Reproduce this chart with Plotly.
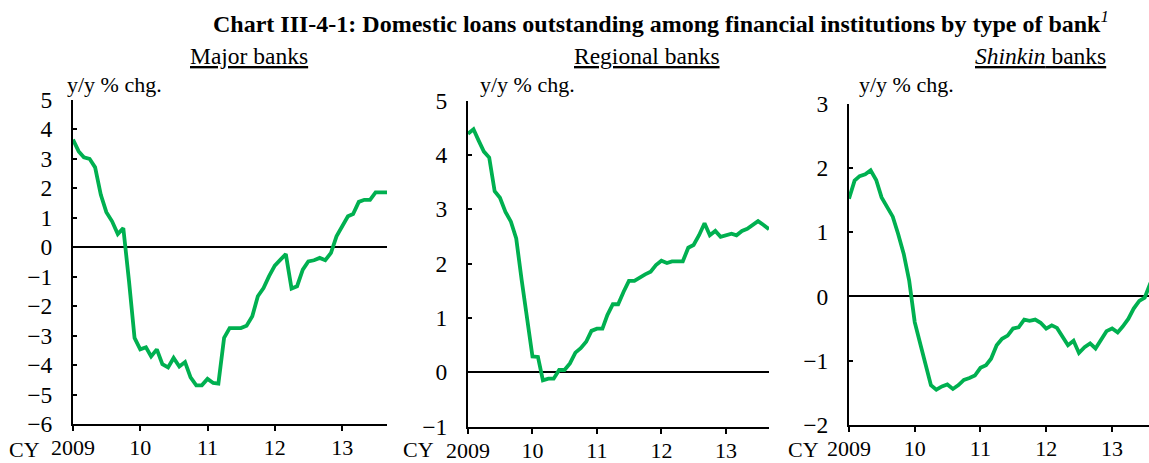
import pandas as pd
import plotly.graph_objects as go

# Monthly observations, Jan 2009 onward (y/y % change)
months = pd.date_range("2009-01-01", periods=57, freq="MS")

major_banks = [
    3.64, 3.24, 3.04, 2.99, 2.70, 1.77, 1.18, 0.87, 0.44, 0.64, -1.16, -3.08,
    -3.47, -3.40, -3.71, -3.47, -3.97, -4.08, -3.76, -4.05, -3.90, -4.42, -4.69, -4.69,
    -4.47, -4.61, -4.63, -3.08, -2.75, -2.75, -2.75, -2.67, -2.35, -1.67, -1.39, -0.99,
    -0.63, -0.43, -0.24, -1.41, -1.33, -0.77, -0.49, -0.45, -0.37, -0.45, -0.20, 0.36,
    0.70, 1.04, 1.12, 1.53, 1.60, 1.60, 1.85, 1.85, 1.85,
]
regional_banks = [
    4.39, 4.47, 4.27, 4.06, 3.95, 3.33, 3.21, 2.95, 2.77, 2.46, 1.69, 0.96,
    0.29, 0.28, -0.15, -0.12, -0.12, 0.04, 0.04, 0.16, 0.36, 0.44, 0.56, 0.76,
    0.80, 0.80, 1.05, 1.25, 1.25, 1.48, 1.68, 1.68, 1.75, 1.80, 1.85, 1.97,
    2.05, 2.01, 2.04, 2.04, 2.04, 2.29, 2.34, 2.52, 2.74, 2.52, 2.60, 2.49,
    2.52, 2.55, 2.52, 2.60, 2.64, 2.72, 2.78, 2.71, 2.63,
]
shinkin_banks = [
    1.52, 1.80, 1.87, 1.90, 1.96, 1.81, 1.54, 1.40, 1.24, 0.97, 0.66, 0.25,
    -0.40, -0.74, -1.07, -1.38, -1.45, -1.40, -1.37, -1.44, -1.38, -1.30, -1.27, -1.23,
    -1.11, -1.07, -0.97, -0.76, -0.66, -0.61, -0.50, -0.48, -0.36, -0.38, -0.36, -0.41,
    -0.50, -0.45, -0.49, -0.63, -0.76, -0.69, -0.88, -0.79, -0.73, -0.81, -0.68, -0.54,
    -0.50, -0.56, -0.47, -0.35, -0.19, -0.07, -0.02, 0.20, 0.32,
]

year_ticks = ["2009-01-01", "2010-01-01", "2011-01-01", "2012-01-01", "2013-01-01"]
year_labels = ["2009", "10", "11", "12", "13"]

W, H = 1149, 463
GREEN = "#00B050"
SERIF = "Liberation Serif, Times New Roman, serif"


def px_x(x):
    return x / W


def px_y(y):
    return 1 - y / H


panels = [
    # (values, x-domain px, y-domain px (top, bottom), y-range, x-range end)
    (major_banks, (73, 387), (99.5, 424), (-6, 5), "2013-09-01"),
    (regional_banks, (468, 769), (100.5, 426.5), (-1, 5), "2013-09-01"),
    (shinkin_banks, (849, 1149), (103.5, 425), (-2, 3), "2013-07-25"),
]

fig = go.Figure()
layout = {}
for k, (vals, (x0, x1), (ytop, ybot), yr, xend) in enumerate(panels, start=1):
    sfx = "" if k == 1 else str(k)
    fig.add_trace(go.Scatter(
        x=months, y=vals, mode="lines",
        line=dict(color=GREEN, width=3.8),
        xaxis="x" + sfx, yaxis="y" + sfx, showlegend=False,
    ))
    layout["xaxis" + sfx] = dict(
        domain=[px_x(x0), px_x(x1)], anchor="y" + sfx,
        type="date", range=["2009-01-01", xend],
        tickvals=year_ticks, ticktext=year_labels,
        showline=True, linecolor="black", linewidth=2,
        ticks="outside", ticklen=5, tickwidth=1.5, tickcolor="black",
        showgrid=False, zeroline=False, automargin=False,
        tickfont=dict(family=SERIF, size=22, color="black"),
        ticklabelstandoff=-2,
    )
    layout["yaxis" + sfx] = dict(
        domain=[px_y(ybot), px_y(ytop)], anchor="x" + sfx,
        range=list(yr), dtick=1, tick0=0,
        showline=True, linecolor="black", linewidth=2,
        ticks="inside", ticklen=4, tickwidth=1.5, tickcolor="black",
        showgrid=False, automargin=False,
        zeroline=True, zerolinecolor="black", zerolinewidth=2,
        tickfont=dict(family=SERIF, size=23.5, color="black"),
        ticklabelstandoff=14,
    )

annotations = []


def note(text, x, y, size):
    annotations.append(dict(
        text=text, x=px_x(x), y=px_y(y), xref="paper", yref="paper",
        showarrow=False, xanchor="center", yanchor="middle",
        font=dict(family=SERIF, size=size, color="black"),
    ))


note("<b>Chart III-4-1: Domestic loans outstanding among financial institutions "
     "by type of bank</b><sup><i>1</i></sup>", 661, 22, 24)
note("<u>Major banks</u>", 249, 56, 23.5)
note("<u>Regional banks</u>", 647, 56, 23.5)
note("<u><i>Shinkin</i> banks</u>", 1040, 56, 23.5)
for cx in (114, 527, 906):
    note("y/y % chg.", cx, 85, 22)
for cx in (24, 418, 803):
    note("CY", cx, 449, 22)

fig.update_layout(
    **layout,
    annotations=annotations,
    width=W, height=H,
    margin=dict(l=0, r=0, t=0, b=0),
    paper_bgcolor="white", plot_bgcolor="white",
)

fig.write_html("out.html")
